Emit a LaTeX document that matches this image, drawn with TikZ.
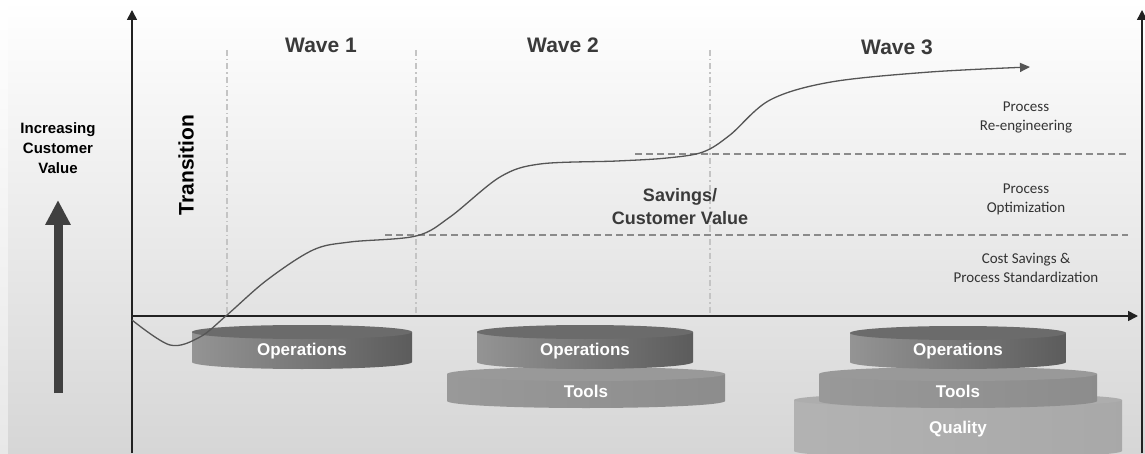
\documentclass[tikz,border=0pt]{standalone}
\usepackage{fontspec}
\setmainfont{Liberation Sans}
\newfontfamily\carlito{Carlito}
\usetikzlibrary{arrows.meta}
\definecolor{ejegris}{HTML}{222222}
\definecolor{texgris}{HTML}{3A3A3A}
\definecolor{notagris}{HTML}{333333}
\definecolor{divgris}{HTML}{C4C4C4}
\definecolor{nivgris}{HTML}{8A8A8A}
\definecolor{curvagris}{HTML}{555555}
\definecolor{fondogris}{HTML}{D6D6D6}
\tikzset{
  eje/.style={draw=ejegris, line width=1.6pt, -{Triangle[length=10pt,width=10pt]}},
  oleada/.style={font=\bfseries\fontsize{21}{24}\selectfont, text=texgris, inner sep=0pt},
  titulo/.style={font=\bfseries\fontsize{15}{20}\selectfont, text=black, align=center, inner sep=0pt},
  nota/.style={font=\carlito\fontsize{15}{19}\selectfont, align=center, text=notagris, inner sep=0pt},
  divisor/.style={draw=divgris, line width=1.2pt, dash pattern=on 6pt off 3pt on 1.5pt off 3pt},
  nivel/.style={draw=nivgris, line width=1.6pt, dash pattern=on 7pt off 4pt},
  curva/.style={draw=curvagris, line width=1.3pt, -{Triangle[length=10pt,width=9pt]}},
  disklabel/.style={text=white, font=\bfseries\fontsize{17}{20}\selectfont, inner sep=0pt},
}
% disco: cx, y arriba, y abajo, rx, color izq, color der, color tapa, texto, nombre
\newcommand{\disco}[9]{%
  \shade[left color=#5, right color=#6] (#1-#4,#2) -- (#1-#4,#3)
    arc[start angle=180, end angle=360, x radius=#4, y radius=7] -- (#1+#4,#2) -- cycle;
  \fill[#7] (#1,#2) ellipse[x radius=#4, y radius=7];
  \node[disklabel] (#9) at (#1,{(#2+#3)/2-4}) {#8};
}
\begin{document}
\begin{tikzpicture}[x=1pt,y=1pt]
  \useasboundingbox (0,0) rectangle (1145,453);
  \clip (0,0) rectangle (1145,453);
  %fondo
  \shade[top color=white, bottom color=black!9] (0,0) rectangle (8,453);
  \shade[top color=white, bottom color=fondogris] (8,0) rectangle (1145,453);
  %%% divisiones de las olas
  \foreach \xx/\nm in {227/d1, 416/d2, 710/d3} {
    \coordinate (\nm a) at (\xx,403);
    \coordinate (\nm b) at (\xx,137);
    \draw[divisor] (\nm a) -- (\nm b);
  }
  %%% niveles
  \coordinate (n1a) at (385,218);
  \coordinate (n1b) at (1128,218);
  \coordinate (n2a) at (635,299);
  \coordinate (n2b) at (1128,299);
  \draw[nivel] (n1a) -- (n1b);
  \draw[nivel] (n2a) -- (n2b);
  %%%% EJES
  \coordinate (origen) at (132,137);
  \coordinate (abajo) at (132,0);
  \coordinate (arriba) at (132,443);
  \coordinate (derecha) at (1138,137);
  \coordinate (dabajo) at (1142,0);
  \coordinate (darriba) at (1142,443);
  \draw[eje] (abajo) -- (arriba);
  \draw[eje] (origen) -- (derecha);
  \draw[eje] (dabajo) -- (darriba);
  %%% flecha grande
  \coordinate (fa) at (58,60);
  \coordinate (fb) at (58,253);
  \draw[draw=black!75, line width=9pt, -{Triangle[length=25pt,width=24pt]}] (fa) -- (fb);
  \node[titulo] (valor) at (58,305) {Increasing\\Customer\\Value};
  %%% olas
  \node[oleada] (ola1) at (321,408) {Wave 1};
  \node[oleada] (ola2) at (563,408) {Wave 2};
  \node[oleada] (ola3) at (897,406) {Wave 3};
  \node[titulo, font=\bfseries\fontsize{21}{24}\selectfont, rotate=90] (trans) at (186,288) {Transition};
  \node[oleada, font=\bfseries\fontsize{18}{23}\selectfont, align=center] (ahorro) at (680,246) {Savings/\\Customer Value};
  %%% notas
  \node[nota] (reing) at (1026,336) {Process\\Re-engineering};
  \node[nota] (optim) at (1026,254) {Process\\Optimization};
  \node[nota] (costo) at (1026,185) {Cost Savings \&\\Process Standardization};
  %%% discos
  \disco{302}{121}{91}{110}{black!42}{black!64}{black!58}{Operations}{op1}
  \disco{586}{79}{52}{139}{black!40}{black!45}{black!40}{Tools}{to2}
  \disco{585}{121}{91}{108}{black!42}{black!64}{black!58}{Operations}{op2}
  \disco{958}{53}{2}{164}{black!30}{black!34}{black!32}{Quality}{qu3}
  \disco{958}{79}{52}{139}{black!40}{black!45}{black!40}{Tools}{to3}
  \disco{958}{120}{91}{108}{black!42}{black!64}{black!58}{Operations}{op3}
  %%% curva
  \draw[curva] plot[smooth, tension=0.55] coordinates {(132,133) (170,108) (200,116) (227,138) (267,173) (313,203) (350,211) (416,217) (450,236) (500,276) (540,289) (617,292) (667,295) (703,301) (730,318) (770,353) (831,371) (930,381) (1030,386)};
\end{tikzpicture}
\end{document}
